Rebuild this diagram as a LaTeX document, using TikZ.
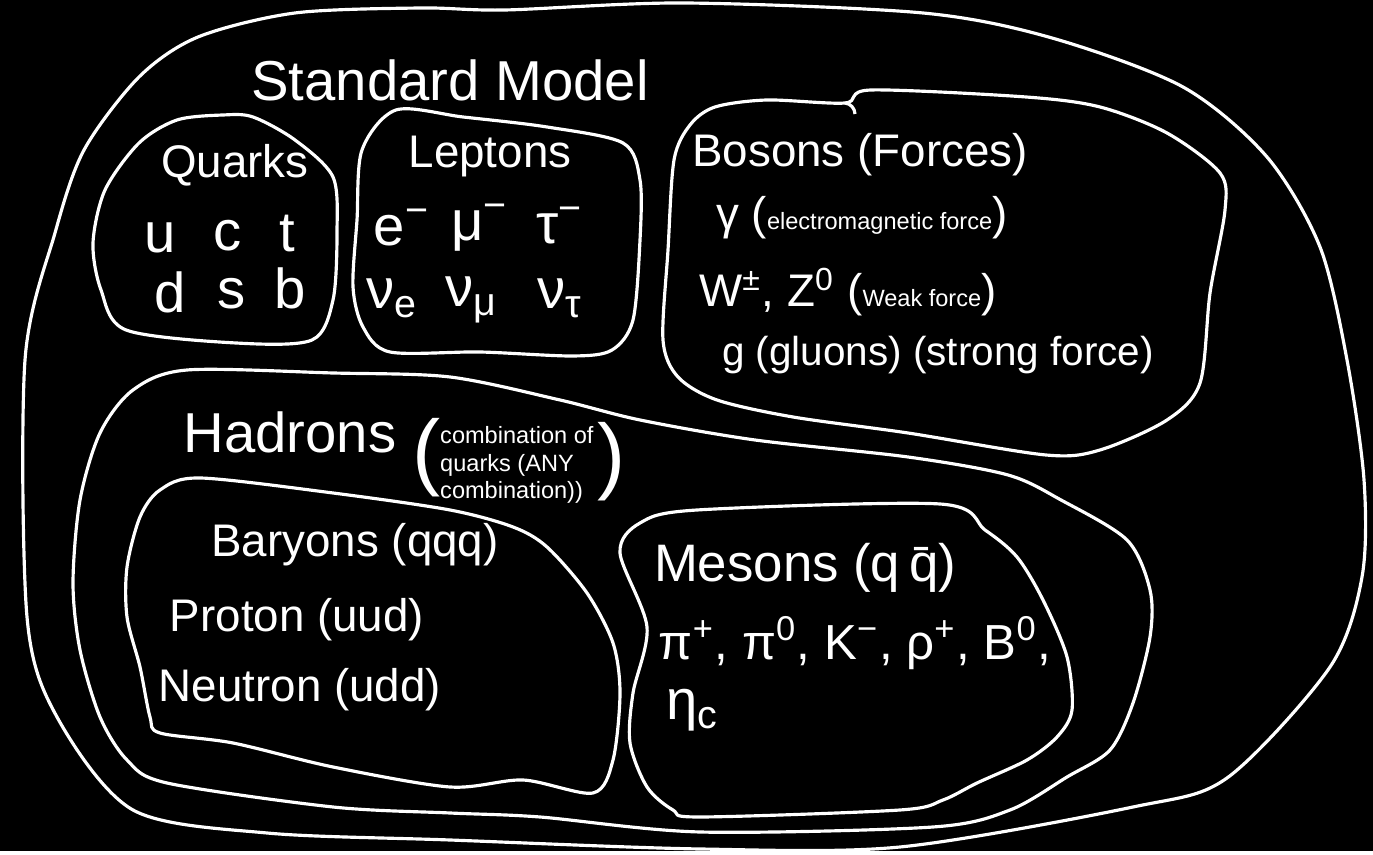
\documentclass[tikz,border=0pt]{standalone}
\usepackage{fontspec}
\setmainfont{Liberation Sans}
\newcommand{\handfont}{\fontsize{13}{15}\selectfont}
\newcommand{\bigfont}{\fontsize{16}{18}\selectfont}
\newcommand{\notefont}{\fontsize{6.7}{7.8}\selectfont}
\tikzset{
  blob/.style={draw=white, line width=0.9pt, line join=round},
  hand/.style={text=white, font=\handfont, inner sep=1pt},
  big/.style={hand, font=\bigfont},
  note/.style={text=white, font=\notefont, align=left, inner sep=1pt}
}

\begin{document}
\begin{tikzpicture}[x=0.01cm, y=-0.01cm]
		\fill[black] (0,0) rectangle (1373,851);
		% Standard Model
		\draw[blob] plot[smooth cycle] coordinates {(25,360) (55,233) (84,150) (139,77) (198,37) (295,13) (421,8) (505,10) (684,3) (923,13) (1052,38) (1183,87) (1267,157) (1320,247) (1347,360) (1364,480) (1362,577) (1330,667) (1227,778) (1133,807) (900,847) (700,849) (450,840) (267,833) (133,810) (57,717) (27,617)};
		\node[big] (sm) at (450,80) {Standard Model};
		% Quarks
		\draw[blob] plot[smooth cycle] coordinates {(223,115) (253,117) (295,140) (333,177) (337,233) (333,300) (312,340) (236,343) (126,330) (101,290) (93,243) (105,190) (139,143) (177,120)};
		\node[hand] (quarks) at (235,165) {Quarks};
		\node[big] (qu) at (160,238) {u};
		\node[big] (qc) at (228,236) {c};
		\node[big] (qt) at (287,234) {t};
		\node[big] (qd) at (170,292) {d};
		\node[big] (qs) at (232,294) {s};
		\node[big] (qb) at (290,288) {b};
		% Leptons
		\draw[blob] plot[smooth cycle] coordinates {(396,110) (463,117) (547,127) (623,143) (640,180) (640,240) (633,320) (612,350) (573,356) (480,352) (390,352) (363,327) (353,287) (357,220) (362,150)};
		\node[hand] (leptons) at (490,157) {Leptons};
		\node[big] (le) at (402,228) {e\textsuperscript{−}};
		\node[big] (lmu) at (480,228) {μ\textsuperscript{−}};
		\node[big] (ltau) at (560,226) {τ\textsuperscript{−}};
		\node[big] (nue) at (392,298) {ν\textsubscript{e}};
		\node[big] (numu) at (472,300) {ν\textsubscript{μ}};
		\node[big] (nutau) at (560,298) {ν\textsubscript{τ}};
		% Bosons
		\draw[blob] plot[smooth cycle] coordinates {(871,90) (1026,97) (1100,107) (1167,133) (1220,173) (1225,210) (1210,293) (1200,383) (1167,420) (1100,450) (1046,455) (908,433) (793,417) (717,400) (678,377) (663,340) (668,250) (674,160) (690,125) (715,107) (767,100) (845,103)};
		\draw[blob] (845,103) to[bend left=40] (855,114);
		\node[hand] (bosons) at (860,155) {Bosons (Forces)};
		\node[hand, anchor=west] (photon) at (712,218) {γ (\notefont electromagnetic force\handfont)};
		\node[hand, anchor=west] (weak) at (695,292) {W\textsuperscript{±}, Z\textsuperscript{0} (\notefont Weak force\handfont)};
		\node[hand, font=\fontsize{11.5}{13}\selectfont, anchor=west] (gluon) at (718,355) {g (gluons) (strong force)};
		% Hadrons
		\draw[blob] plot[smooth cycle] coordinates {(187,370) (333,373) (450,377) (560,400) (640,420) (755,440) (908,457) (1008,475) (1061,500) (1127,540) (1150,590) (1150,637) (1133,703) (1110,750) (1067,777) (1010,810) (933,827) (700,832) (540,817) (450,813) (333,807) (167,783) (127,760) (100,717) (80,650) (73,583) (80,500) (100,433) (133,390)};
		\node[big] (hadrons) at (290,432) {Hadrons};
		\node[text=white, font=\fontsize{24}{24}\selectfont] (hl) at (427,458) {(};
		\node[note, anchor=west] (hnote) at (436,465) {combination of\\quarks (ANY\\combination))};
		\node[text=white, font=\fontsize{24}{24}\selectfont] (hr) at (612,462) {)};
		% Baryons
		\draw[blob] plot[smooth cycle] coordinates {(200,478) (333,493) (450,510) (513,527) (547,547) (587,593) (613,643) (620,693) (613,760) (593,793) (523,780) (450,787) (333,767) (233,743) (160,733) (150,717) (140,667) (127,617) (127,567) (140,517) (160,490)};
		\node[hand] (baryons) at (355,545) {Baryons (qqq)};
		\node[hand] (proton) at (297,620) {Proton (uud)};
		\node[hand] (neutron) at (300,690) {Neutron (udd)};
		% Mesons
		\draw[blob] plot[smooth cycle] coordinates {(640,523) (697,510) (940,504) (985,530) (1017,557) (1043,600) (1067,657) (1072,710) (1057,737) (1027,760) (977,783) (943,800) (900,810) (700,817) (673,810) (647,787) (630,743) (633,693) (647,627) (620,553)};
		\node[hand, font=\fontsize{15}{17}\selectfont] (mesons) at (805,568) {Mesons (q\,\={q})};
		\node[hand, font=\fontsize{14}{16}\selectfont] (mlist) at (855,643) {π\textsuperscript{+}, π\textsuperscript{0}, K\textsuperscript{−}, ρ\textsuperscript{+}, B\textsuperscript{0},};
		\node[big] (etac) at (693,710) {η\textsubscript{c}};
	\end{tikzpicture}
\end{document}
